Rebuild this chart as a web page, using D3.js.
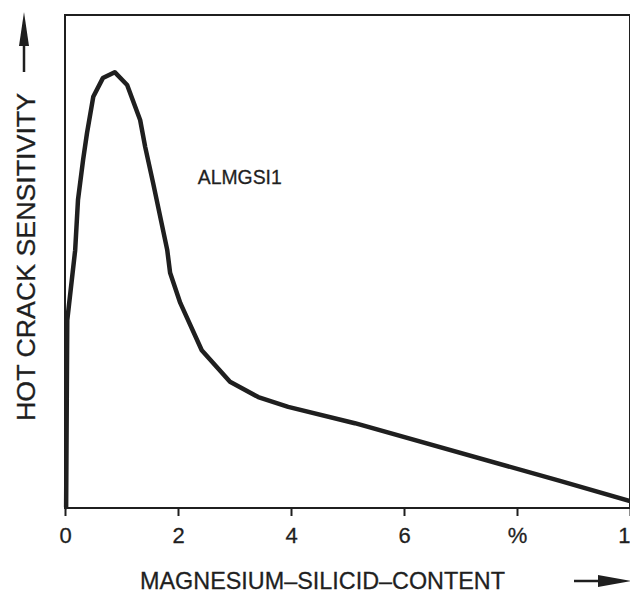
<!DOCTYPE html>
<html>
<head>
<meta charset="utf-8">
<script src="https://cdn.jsdelivr.net/npm/d3@7"></script>
<style>
  html, body { margin: 0; padding: 0; background: #fff; }
  svg { display: block; }
</style>
</head>
<body>
<div id="chart"></div>
<script>
// Mg2Si content (%) and relative hot crack sensitivity
const CONTENT = [0.02, 0.04, 0.18, 0.23, 0.32, 0.39, 0.50, 0.67, 0.88, 1.10, 1.33, 1.42, 1.56, 1.81, 1.86, 2.04, 2.42, 2.92, 3.42, 3.95, 5.13, 8.76, 10.0];
const SENSITIVITY = [0.2, 38.1, 52.3, 62.5, 70.6, 76.1, 83.4, 87.2, 88.4, 85.8, 78.7, 73.2, 65.9, 52.3, 47.7, 41.6, 32.0, 25.6, 22.5, 20.5, 17.2, 5.5, 1.4];

const TICK_VALUES = [0, 2, 4, 6, 8, 10];
const TICK_LABELS = ['0', '2', '4', '6', '%', '10'];

const SERIES_NAME = 'ALMGSI1';
const X_TITLE = 'MAGNESIUM–SILICID–CONTENT';
const Y_TITLE = 'HOT CRACK SENSITIVITY';

const WIDTH = 630;
const HEIGHT = 592;
const INK = '#1f1f1f';
const FONT = '"Liberation Sans", Arial, sans-serif';

const margin = {top: 15, right: 0, bottom: 84, left: 65};

const svg = d3.select('#chart').append('svg')
  .attr('width', WIDTH)
  .attr('height', HEIGHT)
  .attr('viewBox', `0 0 ${WIDTH} ${HEIGHT}`);

const x = d3.scaleLinear().domain([0, 10]).range([margin.left, WIDTH - margin.right]);
const y = d3.scaleLinear().domain([0, 100]).range([HEIGHT - margin.bottom, margin.top]);

// frame
svg.append('rect')
  .attr('x', x(0))
  .attr('y', y(100))
  .attr('width', x(10) - x(0))
  .attr('height', y(0) - y(100))
  .attr('fill', 'none')
  .attr('stroke', INK)
  .attr('stroke-width', 2);

// x axis
const xAxis = svg.append('g')
  .attr('transform', `translate(0, ${y(0)})`)
  .call(d3.axisBottom(x)
    .tickValues(TICK_VALUES)
    .tickSize(8)
    .tickPadding(11)
    .tickFormat((d, i) => TICK_LABELS[i]));

xAxis.select('.domain').remove();
xAxis.selectAll('.tick line')
  .attr('stroke', INK)
  .attr('stroke-width', 2);
xAxis.selectAll('.tick text')
  .attr('fill', INK)
  .attr('stroke', INK)
  .attr('stroke-width', 0.3)
  .attr('font-family', FONT)
  .attr('font-size', 22);

// curve
const points = CONTENT.map((c, i) => ({c, s: SENSITIVITY[i]}));
const line = d3.line()
  .x(d => x(d.c))
  .y(d => y(d.s))
  .curve(d3.curveLinear);

svg.append('path')
  .datum(points)
  .attr('fill', 'none')
  .attr('stroke', INK)
  .attr('stroke-width', 4.5)
  .attr('stroke-linejoin', 'round')
  .attr('stroke-linecap', 'round')
  .attr('d', line);

// series label
svg.append('text')
  .attr('x', x(2.35))
  .attr('y', y(65.7))
  .attr('fill', INK)
  .attr('stroke', INK)
  .attr('stroke-width', 0.3)
  .attr('font-family', FONT)
  .attr('font-size', 20)
  .attr('textLength', 84)
  .attr('lengthAdjust', 'spacingAndGlyphs')
  .text(SERIES_NAME);

// x title with arrow
svg.append('text')
  .attr('x', 140)
  .attr('y', 589)
  .attr('fill', INK)
  .attr('stroke', INK)
  .attr('stroke-width', 0.3)
  .attr('font-family', FONT)
  .attr('font-size', 24)
  .attr('textLength', 365)
  .attr('lengthAdjust', 'spacingAndGlyphs')
  .text(X_TITLE);

svg.append('line')
  .attr('x1', 574).attr('x2', 602)
  .attr('y1', 581).attr('y2', 581)
  .attr('stroke', INK)
  .attr('stroke-width', 2.5);
svg.append('path')
  .attr('d', 'M598,575 L632,581 L598,587 Z')
  .attr('fill', INK);

// y title with arrow
svg.append('text')
  .attr('transform', 'translate(35, 257) rotate(-90)')
  .attr('text-anchor', 'middle')
  .attr('fill', INK)
  .attr('stroke', INK)
  .attr('stroke-width', 0.3)
  .attr('font-family', FONT)
  .attr('font-size', 25)
  .attr('textLength', 328)
  .attr('lengthAdjust', 'spacingAndGlyphs')
  .text(Y_TITLE);

svg.append('line')
  .attr('x1', 24).attr('x2', 24)
  .attr('y1', 72).attr('y2', 40)
  .attr('stroke', INK)
  .attr('stroke-width', 2.5);
svg.append('path')
  .attr('d', 'M19,46 L24,12 L29,46 Z')
  .attr('fill', INK);
</script>
</body>
</html>
